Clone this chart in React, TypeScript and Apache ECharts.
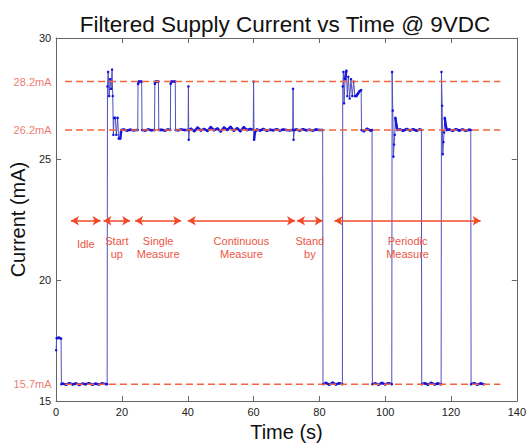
import React, { useEffect, useRef } from "react";
import * as echarts from "echarts";

const TITLE = "Filtered Supply Current vs Time @ 9VDC";
const X_NAME = "Time (s)";
const Y_NAME = "Current (mA)";

// [time s, current mA]
const powerOn = [[0, 17.1], [0.15, 17.6], [0.8, 17.62], [1.5, 17.58], [1.6, 15.7]];
const idle = [[2, 15.72], [3, 15.68], [4, 15.74], [5, 15.69], [6, 15.73], [7, 15.67], [8, 15.72], [9, 15.7], [10, 15.74], [11, 15.68], [12, 15.72], [13, 15.69], [14, 15.73], [15.5, 15.7]];
const startUp = [[15.6, 28.0], [15.8, 28.6], [16.1, 27.6], [16.4, 28.3], [16.7, 27.9], [17.0, 28.7], [17.2, 27.6], [17.4, 26.0], [17.6, 26.7], [18.0, 26.7], [18.3, 26.0], [18.7, 26.7], [19.0, 25.85], [19.5, 25.85], [19.8, 26.2]];
const singleMeasure = [[20.5, 26.22], [21.5, 26.18], [22.5, 26.21], [23.5, 26.19], [24.8, 26.2],
  [24.9, 28.1], [25.1, 28.2], [26.0, 28.2], [26.1, 26.2], [27, 26.18], [28, 26.22], [29, 26.19], [29.9, 26.2],
  [30.0, 28.1], [30.2, 28.2], [31.1, 28.2], [31.2, 26.2], [32, 26.21], [33, 26.18], [34, 26.22], [34.7, 26.2],
  [34.8, 28.1], [35.0, 28.2], [36.2, 28.2], [36.3, 26.2], [37, 26.19], [38, 26.22], [39, 26.2], [40.1, 26.2]];
const continuous = [[40.2, 28.0], [40.3, 25.8], [40.5, 26.2],
  [41, 26.25], [42, 26.15], [43, 26.3], [44, 26.18], [45, 26.24], [46, 26.16], [47, 26.32], [48, 26.19], [49, 26.26], [50, 26.14],
  [51, 26.3], [52, 26.2], [53, 26.33], [54, 26.17], [55, 26.27], [56, 26.15], [57, 26.31], [58, 26.2], [59, 26.24], [59.9, 26.2],
  [60.0, 28.2], [60.15, 25.8], [60.4, 26.1],
  [61, 26.22], [62, 26.18], [63, 26.24], [64, 26.17], [65, 26.21], [66, 26.19], [67, 26.23], [68, 26.18], [69, 26.22], [70, 26.2], [71, 26.19], [71.9, 26.2],
  [72.0, 27.9], [72.15, 25.8], [72.4, 26.2]];
const standBy = [[73, 26.22], [74, 26.18], [75, 26.23], [76, 26.19], [77, 26.21], [78, 26.18], [79, 26.22], [80, 26.2], [81.0, 26.2],
  [81.1, 15.7], [82, 15.75], [83, 15.68], [84, 15.76], [85, 15.69], [86, 15.74], [87.0, 15.7]];
const periodic1 = [[87.1, 28.0], [87.3, 28.6], [87.5, 27.3], [87.8, 28.3], [88.2, 28.65], [88.5, 27.6], [88.8, 28.4], [89.2, 27.5], [89.6, 28.3], [90.0, 27.6], [90.4, 28.2], [90.8, 27.6], [91.2, 27.6], [91.7, 27.7], [92.2, 27.8], [92.7, 27.85], [92.8, 26.2],
  [93.5, 26.15], [94.5, 26.25], [95.5, 26.18], [96.0, 26.2],
  [96.1, 15.7], [97, 15.73], [98, 15.68], [99, 15.75], [100, 15.69], [101, 15.74], [102.0, 15.7]];
const periodic2 = [[102.1, 28.6], [102.3, 27.0], [102.5, 25.1], [102.7, 25.6], [102.9, 26.0], [103.1, 26.7], [103.4, 26.4], [103.7, 26.2],
  [104.5, 26.22], [105.5, 26.17], [106.5, 26.24], [107.5, 26.18], [108.5, 26.23], [109.5, 26.17], [110.5, 26.22], [111.0, 26.2],
  [111.1, 15.7], [112, 15.74], [113, 15.68], [114, 15.75], [115, 15.69], [116, 15.73], [117.0, 15.7]];
const periodic3 = [[117.1, 28.6], [117.3, 27.2], [117.5, 25.2], [117.7, 25.7], [117.9, 26.1], [118.1, 26.7], [118.4, 26.4], [118.7, 26.2],
  [119.5, 26.22], [120.5, 26.17], [121.5, 26.23], [122.5, 26.18], [123.5, 26.22], [124.5, 26.17], [125.5, 26.21], [126.0, 26.2],
  [126.1, 15.7], [127, 15.74], [128, 15.68], [129, 15.73], [130, 15.7]];

const refLevels = [28.2, 26.2, 15.7];
const refSpan = [2.7, 135];

const phaseLevel = 22.45;
const phases = [
  { label: "Idle", from: 4.5, to: 13.5 },
  { label: "Start\nup", from: 14.4, to: 22.5 },
  { label: "Single\nMeasure", from: 24, to: 38 },
  { label: "Continuous\nMeasure", from: 40, to: 72.6 },
  { label: "Stand\nby", from: 73.2, to: 81 },
  { label: "Periodic\nMeasure", from: 84.6, to: 129 },
];

const FONT = "Liberation Sans, Arial, Helvetica, sans-serif";
const AXIS_COLOR = "#666";
const RED = "#f2643e";
const TEXT_RED = "#ec5544";

export default function App() {
  const ref = useRef<HTMLDivElement>(null);
  useEffect(() => {
    if (!ref.current) return;
    const chart = echarts.init(ref.current, undefined, { renderer: "svg" });
    const trace = [...powerOn, ...idle, ...startUp, ...singleMeasure, ...continuous, ...standBy, ...periodic1, ...periodic2, ...periodic3];

    // steady runs (small step-to-step change) are drawn darker/thicker, like the dense sampled trace
    const runs: number[][][] = [];
    let cur: number[][] = [trace[0]];
    for (let i = 1; i < trace.length; i++) {
      if (Math.abs(trace[i][1] - trace[i - 1][1]) < 0.35) cur.push(trace[i]);
      else {
        if (cur.length > 1) runs.push(cur);
        cur = [trace[i]];
      }
    }
    if (cur.length > 1) runs.push(cur);

    const axisCommon = {
      axisLine: { show: true, onZero: false, lineStyle: { color: AXIS_COLOR, width: 1 } },
      axisTick: { show: true, inside: true, length: 5, lineStyle: { color: AXIS_COLOR } },
      splitLine: { show: false },
    };

    const series: any[] = [
      {
        type: "line",
        data: trace,
        symbol: "circle",
        symbolSize: 2.5,
        showSymbol: true,
        itemStyle: { color: "#1414e0" },
        lineStyle: { color: "#5050c0", width: 1 },
        z: 2,
        silent: true,
        markLine: {
          silent: true,
          symbol: ["arrow", "arrow"],
          symbolSize: [7, 8],
          lineStyle: { color: "#f04a28", width: 1.5, type: "solid" },
          label: {
            show: true,
            position: "insideMiddleBottom",
            distance: 14,
            color: TEXT_RED,
            fontSize: 11,
            lineHeight: 13,
            fontFamily: FONT,
            formatter: (p: any) => p.name,
          },
          data: phases.map((ph) => [
            {
              name: ph.label,
              coord: [ph.from, phaseLevel],
              label: ph.label.includes("\n") ? undefined : { distance: 17 },
            },
            { coord: [ph.to, phaseLevel] },
          ]),
        },
      },
      ...runs.map((r) => ({
        type: "line",
        data: r,
        symbol: "none",
        lineStyle: { color: "#1a1ad6", width: 2.5 },
        z: 2,
        silent: true,
      })),
      ...refLevels.map((v) => ({
        type: "line",
        data: [[refSpan[0], v], [refSpan[1], v]],
        symbol: "none",
        lineStyle: { color: RED, width: 1.5, type: [7, 4] },
        z: 3,
        silent: true,
      })),
      {
        type: "scatter",
        data: refLevels.map((v) => [refSpan[0], v]),
        symbolSize: 1,
        itemStyle: { color: "rgba(0,0,0,0)" },
        silent: true,
        label: {
          show: true,
          position: "left",
          distance: 13,
          color: TEXT_RED,
          fontSize: 11,
          fontFamily: FONT,
          formatter: (p: any) => `${p.value[1]}mA`,
        },
      },
    ];

    chart.setOption({
      animation: false,
      backgroundColor: "#fff",
      textStyle: { fontFamily: FONT },
      title: {
        text: TITLE,
        left: 280,
        textAlign: "center",
        top: 8,
        textStyle: { fontSize: 22.5, fontWeight: "normal", color: "#111", fontFamily: FONT },
      },
      grid: { left: 53, right: 10, top: 38, bottom: 41, containLabel: false },
      xAxis: [
        {
          type: "value",
          min: 0,
          max: 140,
          interval: 20,
          ...axisCommon,
          axisLabel: { color: "#222", fontSize: 11, margin: 5, fontFamily: FONT },
          name: X_NAME,
          nameLocation: "middle",
          nameGap: 20,
          nameTextStyle: { fontSize: 20, color: "#111", fontFamily: FONT },
        },
        {
          type: "value",
          position: "top",
          min: 0,
          max: 140,
          interval: 20,
          ...axisCommon,
          axisLabel: { show: false },
        },
      ],
      yAxis: [
        {
          type: "value",
          min: 15,
          max: 30,
          interval: 5,
          ...axisCommon,
          axisLabel: { color: "#222", fontSize: 11, margin: 5, fontFamily: FONT },
          name: Y_NAME,
          nameLocation: "middle",
          nameGap: 19,
          nameTextStyle: { fontSize: 20, color: "#111", fontFamily: FONT },
        },
        {
          type: "value",
          position: "right",
          min: 15,
          max: 30,
          interval: 5,
          ...axisCommon,
          axisLabel: { show: false },
        },
      ],
      series,
    });
    return () => chart.dispose();
  }, []);
  return <div ref={ref} style={{ position: "fixed", left: 0, top: 0, width: 529, height: 447 }} />;
}
